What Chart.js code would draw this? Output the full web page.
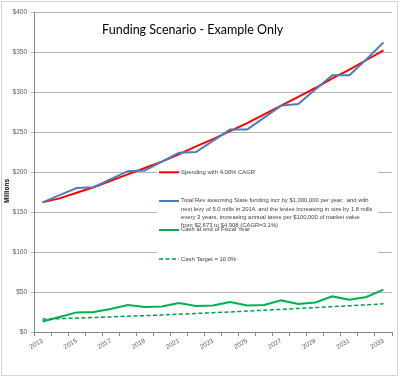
<!DOCTYPE html>
<html><head><meta charset="utf-8">
<script src="https://cdn.jsdelivr.net/npm/chart.js@4/dist/chart.umd.min.js"></script>
<style>html,body{margin:0;padding:0;background:#fff;}canvas{display:block;}</style>
</head><body>
<canvas id="c" width="400" height="377"></canvas>
<script>
const years = ['2013','2014','2015','2016','2017','2018','2019','2020','2021','2022','2023','2024','2025','2026','2027','2028','2029','2030','2031','2032','2033'];
const spending   = [162,167,174,181,189,197,205,213,222,232,241,251,261,272,283,294,305,317,328,340,352];
const totalRev   = [162,171,180,181,191,201,202,213,224,225,239,253,253,268,283,285,303,321,321,341,362];
const cashEnd    = [13.2,18.7,24.5,25,28.7,33.7,31.3,32,36.2,32.5,33,37.5,33,33.7,39.5,35,37,44.5,40.4,43.7,53];
const cashTarget = [16.2,16.7,17.4,18.1,18.9,19.7,20.5,21.3,22.2,23.2,24.1,25.1,26.1,27.2,28.3,29.4,30.5,31.7,32.8,34.0,35.2];
const yTickValues = [0,50,100,150,200,250,300,350,400];
const chartTitle = 'Funding Scenario - Example Only';
const yAxisTitle = 'Millions';
const spendingLabel = ['Spending with 4.00% CAGR'];
const totalRevLabel = ['Total Rev assuming State funding incr by $1,000,000 per year,  and with',
  'next levy of 5.0 mills in 2014, and the levies increasing in size by 1.8 mills',
  'every 3 years, increasing annual taxes per $100,000 of market value',
  'from $2,673 to $4,908 (CAGR=3.1%)'];
const cashEndLabel = ['Cash at end of Fiscal Year'];
const cashTargetLabel = ['Cash Target = 10.0%'];

const overlay = {
  id: 'overlay',
  beforeDraw(chart) {
    const ctx = chart.ctx;
    ctx.save();
    ctx.fillStyle = '#fff';
    ctx.fillRect(0, 0, chart.width, chart.height);
    ctx.strokeStyle = '#d4d4d4';
    ctx.lineWidth = 1;
    ctx.strokeRect(1.5, 1.5, 396, 374);
    ctx.restore();
  },
  afterDatasetsDraw(chart, args, opts) {
    const ctx = chart.ctx;
    ctx.save();
    const b = opts.box;
    ctx.fillStyle = '#fff';
    ctx.fillRect(b.x, b.y, b.w, b.h);
    ctx.font = opts.legendFont;
    ctx.textBaseline = 'middle';
    ctx.textAlign = 'left';
    [0, 1, 2, 3].forEach((di, k) => {
      const ds = chart.data.datasets[di];
      const e = opts.entries[k];
      ctx.strokeStyle = ds.borderColor;
      ctx.lineWidth = ds.borderWidth;
      ctx.setLineDash(ds.borderDash || []);
      ctx.beginPath();
      ctx.moveTo(e.x0, e.ly);
      ctx.lineTo(e.x1, e.ly);
      ctx.stroke();
      ctx.setLineDash([]);
      ctx.fillStyle = '#404040';
      ds.legendLines.forEach((t, i) => ctx.fillText(t, e.tx, e.ty + i * opts.lineH));
    });
    ctx.fillStyle = '#000';
    ctx.font = opts.titleFont;
    ctx.textAlign = 'center';
    ctx.fillText(chartTitle, opts.titleX, opts.titleY);
    ctx.translate(opts.yTitleX, opts.yTitleY);
    ctx.rotate(-Math.PI / 2);
    ctx.font = opts.yTitleFont;
    ctx.fillText(yAxisTitle, 0, 0);
    ctx.restore();
  }
};

const tickFont = { family: 'Liberation Sans', size: 6.5 };

new Chart(document.getElementById('c'), {
  type: 'line',
  data: {
    labels: years,
    datasets: [
      { label: spendingLabel.join(' '), legendLines: spendingLabel, data: spending, borderColor: '#ff0000', borderWidth: 2, order: 4 },
      { label: totalRevLabel.join(' '), legendLines: totalRevLabel, data: totalRev, borderColor: '#4a7ebb', borderWidth: 2, order: 3 },
      { label: cashEndLabel.join(' '), legendLines: cashEndLabel, data: cashEnd, borderColor: '#00b050', borderWidth: 2, order: 2 },
      { label: cashTargetLabel.join(' '), legendLines: cashTargetLabel, data: cashTarget, borderColor: '#00a046', borderWidth: 1.5, borderDash: [4, 2.5], order: 1 }
    ]
  },
  options: {
    responsive: false,
    animation: false,
    devicePixelRatio: 1,
    elements: { point: { radius: 0 }, line: { tension: 0 } },
    layout: { padding: { left: 3, top: 12, right: 8, bottom: 0 } },
    plugins: {
      legend: { display: false },
      tooltip: { enabled: false },
      overlay: {
        box: { x: 157, y: 170, w: 221, h: 100 },
        legendFont: '5.9px "Liberation Sans"',
        lineH: 8.33,
        entries: [
          { x0: 159, x1: 179, ly: 172.3, tx: 181, ty: 172 },
          { x0: 159, x1: 179, ly: 201, tx: 181, ty: 200.7 },
          { x0: 159, x1: 179, ly: 230, tx: 181, ty: 229.5 },
          { x0: 159, x1: 179, ly: 259, tx: 181, ty: 259 }
        ],
        titleFont: '12.5px Lato',
        titleX: 192.7, titleY: 30,
        yTitleFont: 'bold 6.5px "Liberation Sans"',
        yTitleX: 7, yTitleY: 191
      }
    },
    scales: {
      x: {
        offset: true,
        ticks: {
          autoSkip: false, maxRotation: 30, minRotation: 30,
          color: '#595959', font: tickFont, padding: 1,
          callback: function (v, i) { return i % 2 === 0 ? this.getLabelForValue(v) : ''; }
        },
        grid: { offset: true, drawOnChartArea: false, drawTicks: true, tickLength: 4, color: '#868686' },
        border: { color: '#868686' },
        afterFit(s) { s.height = 45; }
      },
      y: {
        min: 0, max: 400,
        afterBuildTicks(s) { s.ticks = yTickValues.map(v => ({ value: v })); },
        ticks: { color: '#595959', font: tickFont, padding: 4, callback: v => '$' + v },
        grid: { color: '#b3b3b3', tickLength: 3, drawTicks: true },
        border: { color: '#868686' },
        afterFit(s) { s.width = 31; }
      }
    }
  },
  plugins: [overlay]
});
</script>
</body></html>
